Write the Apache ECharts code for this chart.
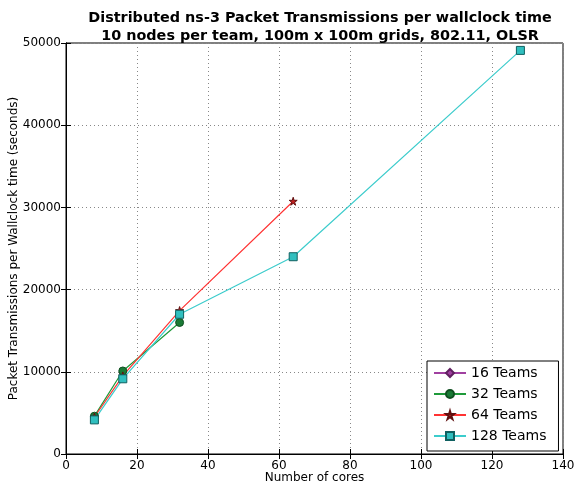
<!DOCTYPE html>
<html><head><meta charset="utf-8">
<script src="https://cdn.jsdelivr.net/npm/echarts@6/dist/echarts.min.js"></script>
<style>html,body{margin:0;padding:0;background:#fff}#c{width:574px;height:486px}</style>
</head><body><div id="c"></div>
<script>
var cores16 = [];
var teams16 = [];
var cores32 = [8, 16, 32];
var teams32 = [4600, 10100, 16000];
var cores64 = [8, 16, 32, 64];
var teams64 = [4500, 9500, 17450, 30750];
var cores128 = [8, 16, 32, 64, 128];
var teams128 = [4150, 9150, 17000, 24000, 49100];
var xTicks = [0, 20, 40, 60, 80, 100, 120, 140];
var yTicks = [0, 10000, 20000, 30000, 40000, 50000];

function pairs(xs, ys){ return xs.map(function(x,i){return [x, ys[i]];}); }
var star = 'path://M50,0 L61,35 L98,35 L68,57 L79,91 L50,70 L21,91 L32,57 L2,35 L39,35 Z';
var font = 'DejaVu Sans';

var chart = echarts.init(document.getElementById('c'));
var axisLine = {show:true, lineStyle:{color:'#000', width:1}};
var axisTick = {show:true, inside:true, length:5, lineStyle:{color:'#000'}};
chart.setOption({
  animation:false,
  backgroundColor:'#fff',
  title:{text:'Distributed ns-3 Packet Transmissions per wallclock time\n10 nodes per team, 100m x 100m grids, 802.11, OLSR',
    left:315, top:4, textAlign:'center',
    textStyle:{fontFamily:font, fontSize:14.4, fontWeight:'bold', color:'#000', lineHeight:18}},
  grid:{left:66, right:11, top:43, bottom:32, show:true, borderColor:'#000', borderWidth:1, outerBoundsMode:'none', containLabel:false},
  legend:{orient:'vertical', left:427, top:361, padding:[5,12,8,6], itemGap:7, itemWidth:32, itemHeight:10,
    backgroundColor:'#fff', borderColor:'#000', borderWidth:1,
    textStyle:{fontFamily:font, fontSize:14, color:'#000'},
    data:['16 Teams','32 Teams','64 Teams','128 Teams']},
  xAxis:[{type:'value', min:xTicks[0], max:xTicks[xTicks.length-1], interval:20, position:'bottom',
    name:'Number of cores', nameLocation:'middle', nameGap:18, nameMoveOverlap:false,
    nameTextStyle:{fontFamily:font, fontSize:12, color:'#000'},
    axisLabel:{fontFamily:font, fontSize:12, color:'#000', margin:6, formatter:function(v){return String(v);}},
    splitLine:{show:true, lineStyle:{type:[1,3], color:'#888'}},
    axisLine:axisLine, axisTick:axisTick},
   {type:'value', min:0, max:140, interval:20, position:'top', axisLabel:{show:false}, splitLine:{show:false},
    axisLine:axisLine, axisTick:axisTick}],
  yAxis:[{type:'value', min:yTicks[0], max:yTicks[yTicks.length-1], interval:10000, position:'left',
    name:'Packet Transmissions per Wallclock time (seconds)', nameLocation:'middle', nameGap:46, nameMoveOverlap:false,
    nameTextStyle:{fontFamily:font, fontSize:12, color:'#000'},
    axisLabel:{fontFamily:font, fontSize:12, color:'#000', margin:5, formatter:function(v){return String(v);}},
    splitLine:{show:true, lineStyle:{type:[1,3], color:'#888'}},
    axisLine:axisLine, axisTick:axisTick},
   {type:'value', min:0, max:50000, interval:10000, position:'right', axisLabel:{show:false}, splitLine:{show:false},
    axisLine:axisLine, axisTick:axisTick}],
  series:[
    {name:'16 Teams', type:'line', data:pairs(cores16, teams16), symbol:'diamond', symbolSize:10,
      lineStyle:{color:'#a040a0', width:1.2}, itemStyle:{color:'#a040a0', borderColor:'#602060', borderWidth:1}},
    {name:'32 Teams', type:'line', data:pairs(cores32, teams32), symbol:'circle', symbolSize:8,
      lineStyle:{color:'#1f9a3a', width:1.2}, itemStyle:{color:'#1a7a35', borderColor:'#0f4f20', borderWidth:1}},
    {name:'64 Teams', type:'line', data:pairs(cores64, teams64), symbol:star, symbolSize:8,
      lineStyle:{color:'#ff3333', width:1.2}, itemStyle:{color:'#c02020', borderColor:'#601010', borderWidth:1}},
    {name:'128 Teams', type:'line', data:pairs(cores128, teams128), symbol:'rect', symbolSize:8,
      lineStyle:{color:'#3ccccc', width:1.2}, itemStyle:{color:'#30bfbf', borderColor:'#106060', borderWidth:1}}
  ]
});
</script></body></html>
